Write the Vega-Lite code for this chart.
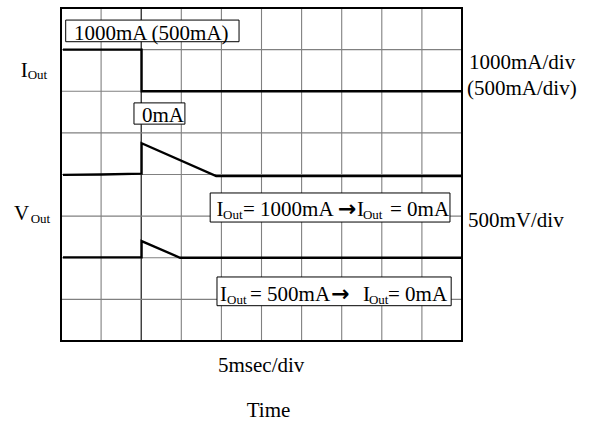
{
  "$schema": "https://vega.github.io/schema/vega-lite/v6.json",
  "width": 401,
  "height": 333,
  "autosize": {"type": "none"},
  "padding": {"left": 61, "top": 8, "right": 133, "bottom": 82},
  "background": "white",
  "config": {"view": {"stroke": null}, "text": {"font": "Liberation Serif", "color": "black"}},
  "datasets": {
    "vgrid": [
      {"t": 1, "c": "grid"}, {"t": 2, "c": "trigger"}, {"t": 3, "c": "grid"}, {"t": 4, "c": "grid"},
      {"t": 5, "c": "grid"}, {"t": 6, "c": "grid"}, {"t": 7, "c": "grid"}, {"t": 8, "c": "grid"}, {"t": 9, "c": "grid"}
    ],
    "hgrid": [
      {"v": 1}, {"v": 2}, {"v": 3}, {"v": 4}, {"v": 5}, {"v": 6}, {"v": 7}
    ],
    "frame": [{"x0": 0, "x1": 10, "y0": 0, "y1": 8}],
    "boxes": [
      {"name": "step", "x0": 0.117, "x1": 4.44, "y0": 7.19, "y1": 7.71},
      {"name": "zero", "x0": 1.82, "x1": 3.09, "y0": 5.21, "y1": 5.72},
      {"name": "v1000", "x0": 3.72, "x1": 9.70, "y0": 2.858, "y1": 3.556},
      {"name": "v500", "x0": 3.89, "x1": 9.73, "y0": 0.848, "y1": 1.538}
    ],
    "traces": [
      {"s": "Iout", "o": 1, "x": 0.05, "y": 7.0},
      {"s": "Iout", "o": 2, "x": 2.01, "y": 7.0},
      {"s": "Iout", "o": 3, "x": 2.01, "y": 6.0},
      {"s": "Iout", "o": 4, "x": 10.0, "y": 6.0},
      {"s": "V1000", "o": 1, "x": 0.05, "y": 3.99},
      {"s": "V1000", "o": 2, "x": 1.0, "y": 4.0},
      {"s": "V1000", "o": 3, "x": 2.01, "y": 4.02},
      {"s": "V1000", "o": 4, "x": 2.01, "y": 4.75},
      {"s": "V1000", "o": 5, "x": 3.87, "y": 3.96},
      {"s": "V1000", "o": 6, "x": 10.0, "y": 3.96},
      {"s": "V500", "o": 1, "x": 0.05, "y": 2.01},
      {"s": "V500", "o": 2, "x": 2.01, "y": 2.01},
      {"s": "V500", "o": 3, "x": 2.01, "y": 2.40},
      {"s": "V500", "o": 4, "x": 2.97, "y": 2.0},
      {"s": "V500", "o": 5, "x": 10.0, "y": 2.0}
    ],
    "labels": [
      {"text": "1000mA (500mA)", "role": "main", "x": 0.324, "y": 7.23},
      {"text": "0mA", "role": "main", "x": 2.02, "y": 5.25},
      {"text": "I", "role": "main", "x": 3.878, "y": 3.003},
      {"text": "Out", "role": "sub", "x": 4.04, "y": 2.93},
      {"text": "= 1000mA", "role": "main", "x": 4.539, "y": 3.003},
      {"text": "→", "role": "arrow", "x": 6.908, "y": 3.003},
      {"text": "I", "role": "main", "x": 7.382, "y": 3.003},
      {"text": "Out", "role": "sub", "x": 7.53, "y": 2.93},
      {"text": "= 0mA", "role": "main", "x": 8.204, "y": 3.003},
      {"text": "I", "role": "main", "x": 3.965, "y": 0.961},
      {"text": "Out", "role": "sub", "x": 4.14, "y": 0.889},
      {"text": "= 500mA", "role": "main", "x": 4.713, "y": 0.961},
      {"text": "→", "role": "arrow", "x": 6.74, "y": 0.961},
      {"text": "I", "role": "main", "x": 7.531, "y": 0.961},
      {"text": "Out", "role": "sub", "x": 7.68, "y": 0.889},
      {"text": "= 0mA", "role": "main", "x": 8.155, "y": 0.961},
      {"text": "I", "role": "main", "x": -1.005, "y": 6.35},
      {"text": "Out", "role": "sub", "x": -0.83, "y": 6.294},
      {"text": "V", "role": "main", "x": -1.172, "y": 2.91},
      {"text": "Out", "role": "sub", "x": -0.756, "y": 2.835},
      {"text": "1000mA/div", "role": "main", "x": 10.175, "y": 6.523},
      {"text": "(500mA/div)", "role": "main", "x": 10.125, "y": 5.91},
      {"text": "500mV/div", "role": "main", "x": 10.15, "y": 2.727},
      {"text": "5msec/div", "role": "main", "x": 3.915, "y": -0.733},
      {"text": "Time", "role": "main", "x": 4.631, "y": -1.814}
    ]
  },
  "layer": [
    {
      "data": {"name": "vgrid"},
      "mark": {"type": "rule"},
      "encoding": {
        "x": {"field": "t", "type": "quantitative", "scale": {"domain": [0, 10], "nice": false, "zero": false}, "axis": null},
        "color": {"field": "c", "type": "nominal", "scale": {"domain": ["grid", "trigger"], "range": ["#808080", "#000000"]}, "legend": null},
        "strokeWidth": {"value": 1.1}
      }
    },
    {
      "data": {"name": "hgrid"},
      "mark": {"type": "rule", "color": "#808080", "strokeWidth": 1.1},
      "encoding": {
        "y": {"field": "v", "type": "quantitative", "scale": {"domain": [0, 8], "nice": false, "zero": false}, "axis": null}
      }
    },
    {
      "data": {"name": "boxes"},
      "mark": {"type": "rect", "fill": "white", "stroke": "black", "strokeWidth": 1},
      "encoding": {
        "x": {"field": "x0", "type": "quantitative"},
        "x2": {"field": "x1"},
        "y": {"field": "y0", "type": "quantitative"},
        "y2": {"field": "y1"}
      }
    },
    {
      "data": {"name": "traces"},
      "mark": {"type": "line", "color": "black", "strokeWidth": 2.3},
      "encoding": {
        "x": {"field": "x", "type": "quantitative"},
        "y": {"field": "y", "type": "quantitative"},
        "detail": {"field": "s", "type": "nominal"},
        "order": {"field": "o", "type": "quantitative"}
      }
    },
    {
      "data": {"name": "labels"},
      "transform": [{"filter": "datum.role !== 'arrow'"}],
      "mark": {"type": "text", "align": "left", "baseline": "alphabetic", "font": "Liberation Serif", "color": "black"},
      "encoding": {
        "x": {"field": "x", "type": "quantitative"},
        "y": {"field": "y", "type": "quantitative"},
        "text": {"field": "text", "type": "nominal"},
        "size": {"field": "role", "type": "nominal", "scale": {"domain": ["main", "sub"], "range": [21, 13]}, "legend": null}
      }
    },
    {
      "data": {"name": "labels"},
      "transform": [{"filter": "datum.role === 'arrow'"}],
      "mark": {"type": "text", "align": "left", "baseline": "alphabetic", "font": "DejaVu Sans", "fontWeight": "bold", "fontSize": 22, "color": "black"},
      "encoding": {
        "x": {"field": "x", "type": "quantitative"},
        "y": {"field": "y", "type": "quantitative"},
        "text": {"field": "text", "type": "nominal"}
      }
    },
    {
      "data": {"name": "frame"},
      "mark": {"type": "rect", "fill": null, "fillOpacity": 0, "stroke": "black", "strokeWidth": 2},
      "encoding": {
        "x": {"field": "x0", "type": "quantitative"},
        "x2": {"field": "x1"},
        "y": {"field": "y0", "type": "quantitative"},
        "y2": {"field": "y1"}
      }
    }
  ]
}
